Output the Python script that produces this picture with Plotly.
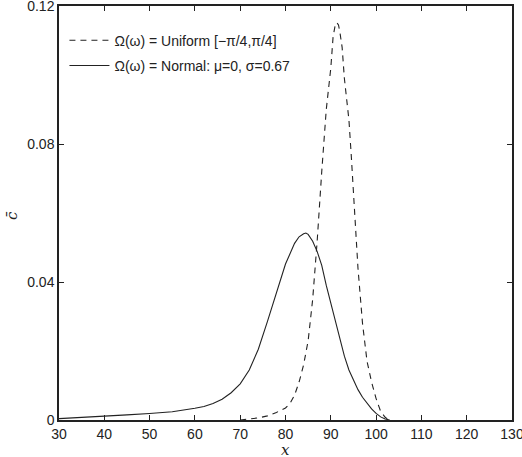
import plotly.graph_objects as go

# Uniform Omega (dashed)
x_uniform = [70, 72, 74, 76, 78, 80, 81, 82, 83, 84, 85, 86, 87, 88, 89, 90, 90.5, 91, 91.3, 91.7,
             92, 92.5, 93, 93.5, 94, 94.5, 95, 95.5, 96, 97, 98, 99, 100, 101, 102, 102.8]
y_uniform = [0, 0.0003, 0.0006, 0.0012, 0.0022, 0.0035, 0.0048, 0.0072, 0.011, 0.016, 0.023, 0.035,
             0.052, 0.072, 0.090, 0.102, 0.111, 0.1147, 0.1152, 0.1145, 0.1125, 0.108, 0.099, 0.093,
             0.087, 0.077, 0.065, 0.054, 0.044, 0.028, 0.017, 0.011, 0.0062, 0.0025, 0.0008, 0]

# Normal Omega (solid)
x_normal = [30, 35, 40, 45, 50, 55, 60, 62, 64, 66, 68, 70, 72, 74, 76, 78, 80, 82, 83, 84, 84.5, 85,
            86, 87, 88, 89, 90, 91, 92, 93, 94, 95, 96, 97, 98, 99, 100, 101, 102, 103]
y_normal = [0.0004, 0.0007, 0.0011, 0.0015, 0.0019, 0.0024, 0.0034, 0.0039, 0.0048, 0.006, 0.0079,
            0.0105, 0.0145, 0.0205, 0.0285, 0.0372, 0.0452, 0.0512, 0.0531, 0.0540, 0.0542, 0.0538,
            0.0518, 0.0488, 0.0448, 0.039, 0.034, 0.0288, 0.0235, 0.0185, 0.0145, 0.0115, 0.0088,
            0.0066, 0.0048, 0.0032, 0.0019, 0.0009, 0.0003, 0]

x_ticks = [30, 40, 50, 60, 70, 80, 90, 100, 110, 120, 130]
x_tick_labels = ["30", "40", "50", "60", "70", "80", "90", "100", "110", "120", "130"]
y_ticks = [0, 0.04, 0.08, 0.12]
y_tick_labels = ["0", "0.04", "0.08", "0.12"]

tick_font = dict(family="Liberation Sans, Arial", size=14, color="#222")

fig = go.Figure()
fig.add_trace(go.Scatter(x=x_uniform, y=y_uniform, mode="lines", legendgroup="u",
                         name="Ω(ω) = Uniform [−π/4,π/4]",
                         line=dict(color="#222", width=1.1, dash="6px,5px")))
fig.add_trace(go.Scatter(x=x_normal, y=y_normal, mode="lines", legendgroup="n",
                         name="Ω(ω) = Normal: μ=0, σ=0.67",
                         line=dict(color="#222", width=1.1)))

axis_common = dict(showline=True, linecolor="#222", linewidth=1.5, mirror="ticks",
                   ticks="inside", ticklen=5, tickcolor="#222", tickwidth=1,
                   showgrid=False, zeroline=False, automargin=False,
                   ticklabeloverflow="allow", tickfont=tick_font)

fig.update_layout(
    template="none",
    width=522, height=457,
    margin=dict(l=59, r=10, t=6, b=37, pad=0),
    paper_bgcolor="white", plot_bgcolor="white",
    showlegend=True,
    legend=dict(x=0.012, y=0.955, xanchor="left", yanchor="top",
                bgcolor="rgba(0,0,0,0)", borderwidth=0,
                font=dict(family="Liberation Sans, Arial", size=14, color="#222"),
                tracegroupgap=4, itemwidth=40, traceorder="grouped"),
    xaxis=dict(range=[30, 130], tickvals=x_ticks, ticktext=x_tick_labels, **axis_common),
    yaxis=dict(range=[0, 0.12], tickvals=y_ticks, ticktext=y_tick_labels, **axis_common),
)

fig.add_annotation(x=0.5, y=-0.072, xref="paper", yref="paper", text="<i>x</i>",
                   showarrow=False, yanchor="middle",
                   font=dict(family="DejaVu Serif", size=15, color="#222"))
fig.add_annotation(x=-0.104, y=0.495, xref="paper", yref="paper", text="<i>c\u0304</i>",
                   showarrow=False, textangle=-90, xanchor="center",
                   font=dict(family="DejaVu Serif", size=15, color="#222"))

fig.write_html("out.html")
